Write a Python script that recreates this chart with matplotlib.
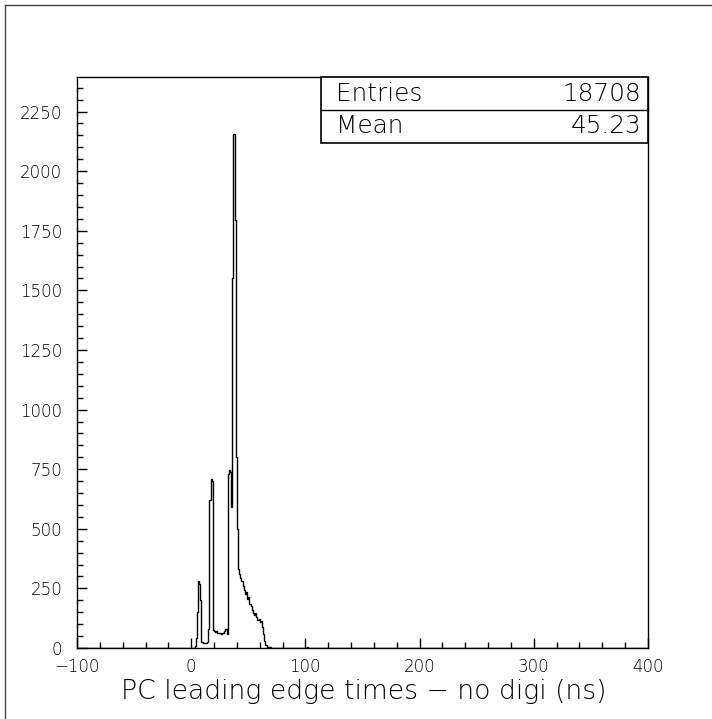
import numpy as np
import matplotlib
matplotlib.use("Agg")
import matplotlib.pyplot as plt
from matplotlib.lines import Line2D
from matplotlib.patches import Rectangle
from matplotlib.ticker import MultipleLocator

# ---- data (1 ns bins from -100 to 400) ----
x_min, x_max = -100, 400
# counts for bins starting at 0 ns .. 66 ns
main_counts = [0, 0, 2, 10, 40, 150, 280, 270, 200, 25,
               22, 20, 22, 20, 25, 80, 620, 710, 700, 75,
               70, 68, 72, 65, 62, 64, 60, 62, 65, 70,
               78, 60, 730, 745, 740, 593, 1550, 2156, 1795, 800,
               500, 330, 310, 295, 280, 262, 245, 225, 235, 205,
               212, 185, 175, 158, 148, 138, 145, 128, 118, 122,
               108, 112, 88, 58, 28, 12, 5]
main_start = 0
# sparse small tail (bin start in ns, counts)
tail_bins = [67, 68, 69, 70, 72, 75, 78, 80, 84, 88, 92, 97, 101, 105, 110,
             114, 118, 123, 130, 137, 145, 152, 160, 170, 178, 185, 196, 210,
             224, 240, 255, 270, 290, 310, 335, 360, 385]
tail_counts = [4, 3, 3, 2, 2, 2, 1, 2, 1, 2, 1, 1, 3, 1, 2,
               1, 2, 1, 1, 2, 1, 1, 2, 1, 2, 1, 1, 1,
               1, 1, 1, 1, 1, 1, 1, 1, 1]
yticks = [0, 250, 500, 750, 1000, 1250, 1500, 1750, 2000, 2250]
xticks = [-100, 0, 100, 200, 300, 400]
stats_labels = ["Entries", "Mean"]
stats_values = ["18708", "45.23"]
xlabel = "PC leading edge times \u2212 no digi (ns)"

edges = np.arange(x_min, x_max + 1)
counts = np.zeros(len(edges) - 1)
for i, c in enumerate(main_counts):
    counts[main_start + i - x_min] = c
for b, c in zip(tail_bins, tail_counts):
    counts[b - x_min] = c

W, H = 712, 719
fig = plt.figure(figsize=(W / 100, H / 100), dpi=100)
plt.rcParams['font.family'] = ['DejaVu Sans']

L, R, T, B = 77, 648, 77, 648
ax = fig.add_axes([L / W, 1 - B / H, (R - L) / W, (B - T) / H])
ax.stairs(counts, edges, color='black', lw=1.0)
ax.set_xlim(x_min, x_max)
ax.set_ylim(0, 2395)
ax.set_xticks(xticks)
ax.set_yticks(yticks)
ax.xaxis.set_minor_locator(MultipleLocator(20))
ax.yaxis.set_minor_locator(MultipleLocator(50))
ax.tick_params(which='both', direction='in', top=False, right=False, labelsize=12)
ax.tick_params(which='major', length=7.5, width=1.0)
ax.tick_params(which='minor', length=4, width=1.0)
ax.tick_params(axis='y', pad=10.5)
ax.tick_params(axis='x', pad=7.0)
for s in ax.spines.values():
    s.set_linewidth(1.0)
    s.set_color('black')
for lab in ax.get_xticklabels() + ax.get_yticklabels():
    lab.set_fontweight('light')

fig.text(364 / W, 1 - 691 / H, xlabel, ha='center', va='center',
         fontsize=19.2, fontweight='light')

# stats box
bx0, bx1, by0, by1, bdiv = 321, 648, 77, 143, 110
fig.add_artist(Rectangle((bx0 / W, 1 - by1 / H), (bx1 - bx0) / W, (by1 - by0) / H,
                         transform=fig.transFigure, fill=True, facecolor='white',
                         edgecolor='black', lw=1.2))
fig.add_artist(Line2D([bx0 / W, bx1 / W], [1 - bdiv / H, 1 - bdiv / H],
                      transform=fig.transFigure, color='black', lw=1.0))
rows_y = [94, 126]
for lbl, val, yy in zip(stats_labels, stats_values, rows_y):
    fig.text(336 / W, 1 - yy / H, lbl, ha='left', va='center', fontsize=17.8, fontweight='light')
    fig.text(641 / W, 1 - yy / H, val, ha='right', va='center', fontsize=17.8, fontweight='light')

# outer frame (left and top edges visible)
fig.add_artist(Line2D([5 / W, 5 / W], [0, 1 - 5 / H], transform=fig.transFigure,
                      color='#444444', lw=1.0))
fig.add_artist(Line2D([5 / W, 1], [1 - 5 / H, 1 - 5 / H], transform=fig.transFigure,
                      color='#444444', lw=1.0))

fig.savefig("out.png", dpi=100)
